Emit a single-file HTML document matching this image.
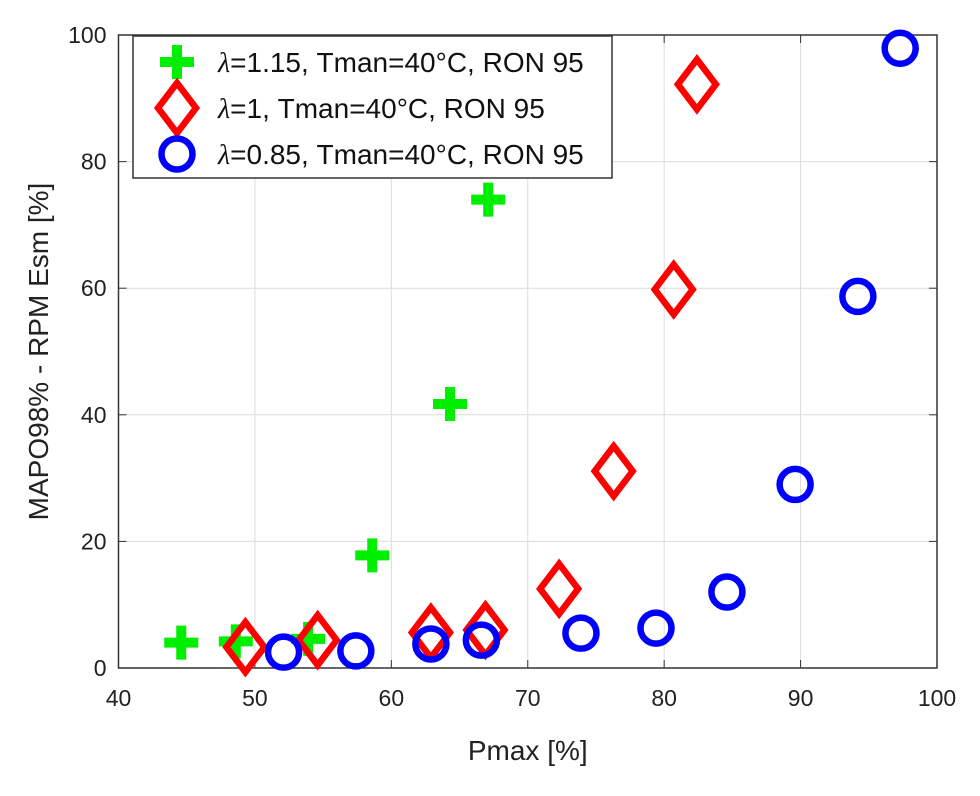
<!DOCTYPE html>
<html><head><meta charset="utf-8"><style>
body{margin:0;background:#fff;width:980px;height:791px;overflow:hidden;font-family:"Liberation Sans",sans-serif}
</style></head><body>
<svg id="chart" width="980" height="791" xmlns="http://www.w3.org/2000/svg"></svg>
<script>
const xTicks=[40,50,60,70,80,90,100];
const yTicks=[0,20,40,60,80,100];
const plusX=[44.6,48.6,53.9,58.6,64.3,67.1];
const plusY=[4.0,4.2,4.6,17.8,41.7,74.0];
const diaX=[49.3,54.6,62.9,66.9,72.3,76.3,80.7,82.4];
const diaY=[3.3,4.4,5.6,6.0,12.5,31.1,59.8,92.2];
const circX=[52.1,57.4,62.9,66.6,73.9,79.4,84.6,89.6,94.2,97.3];
const circY=[2.5,2.7,3.8,4.4,5.5,6.3,12.0,29.0,58.7,97.9];
const legendLabels=["=1.15, Tman=40°C, RON 95","=1, Tman=40°C, RON 95","=0.85, Tman=40°C, RON 95"];
const L=118.5,R=937,T=35,B=668;
const sx=v=>L+(v-40)/60*(R-L), sy=v=>B-v/100*(B-T);
const svg=document.getElementById('chart');
const NS="http://www.w3.org/2000/svg";
function mk(tag,attrs,parent){const e=document.createElementNS(NS,tag);for(const k in attrs)e.setAttribute(k,attrs[k]);(parent||svg).appendChild(e);return e;}
const grid=mk('g',{});


xTicks.forEach(t=>{mk('line',{x1:sx(t),x2:sx(t),y1:T,y2:B,stroke:'#dcdcdc','stroke-width':1},grid);});
yTicks.forEach(t=>{mk('line',{x1:L,x2:R,y1:sy(t),y2:sy(t),stroke:'#dcdcdc','stroke-width':1},grid);});
const ax=mk('g',{});


mk('rect',{x:L,y:T,width:R-L,height:B-T,fill:'none',stroke:'#333','stroke-width':1.5},ax);
xTicks.forEach(t=>{mk('line',{x1:sx(t),x2:sx(t),y1:B,y2:B-8,stroke:'#333'},ax);mk('line',{x1:sx(t),x2:sx(t),y1:T,y2:T+8,stroke:'#333'},ax);
 const tx=mk('text',{x:sx(t),y:B+38,'text-anchor':'middle','font-size':23,fill:'#222'},ax);tx.textContent=t;
 
 });
yTicks.forEach(t=>{mk('line',{x1:L,x2:L+8,y1:sy(t),y2:sy(t),stroke:'#333'},ax);mk('line',{x1:R,x2:R-8,y1:sy(t),y2:sy(t),stroke:'#333'},ax);
 const tx=mk('text',{x:L-12,y:sy(t)+8,'text-anchor':'end','font-size':23,fill:'#222'},ax);tx.textContent=t;
 
 });
const xt=mk('text',{x:(L+R)/2,y:760,'text-anchor':'middle','font-size':28,fill:'#222'});xt.textContent='Pmax [%]';


const yt=mk('text',{x:0,y:0,'text-anchor':'middle','font-size':28,fill:'#222',transform:`translate(48,${(T+B)/2}) rotate(-90)`});yt.textContent='MAPO98% - RPM Esm [%]';


function plus(g,x,y){mk('path',{d:`M${x-17},${y}H${x+17}M${x},${y-17}V${y+17}`,stroke:'#00ee00','stroke-width':10,fill:'none'},g);}
function dia(g,x,y){mk('path',{d:`M${x},${y-25}L${x+19},${y}L${x},${y+25}L${x-19},${y}Z`,stroke:'#ff0000','stroke-width':6.5,fill:'none'},g);}
function circ(g,x,y){mk('circle',{cx:x,cy:y,r:15.5,stroke:'#0000ff','stroke-width':6.5,fill:'none'},g);}
const g1=mk('g',{});


plusX.forEach((v,i)=>plus(g1,sx(v),sy(plusY[i])));
const g2=mk('g',{});


diaX.forEach((v,i)=>dia(g2,sx(v),sy(diaY[i])));
const g3=mk('g',{});


circX.forEach((v,i)=>circ(g3,sx(v),sy(circY[i])));
const lg=mk('g',{});


mk('rect',{x:133,y:36,width:479,height:142,fill:'#fff',stroke:'#333','stroke-width':1.5},lg);
const fns=[plus,dia,circ];
legendLabels.forEach((s,i)=>{const y=62+i*46;fns[i](lg,177,y);
 const tx=mk('text',{x:218,y:y+10,'font-size':28,fill:'#111'},lg);
 
 
 const a=mk('tspan',{'font-family':'"Liberation Serif",serif','font-style':'italic'},tx);a.textContent='λ';
 const b=mk('tspan',{},tx);b.textContent=s;});
</script>
</body></html>
